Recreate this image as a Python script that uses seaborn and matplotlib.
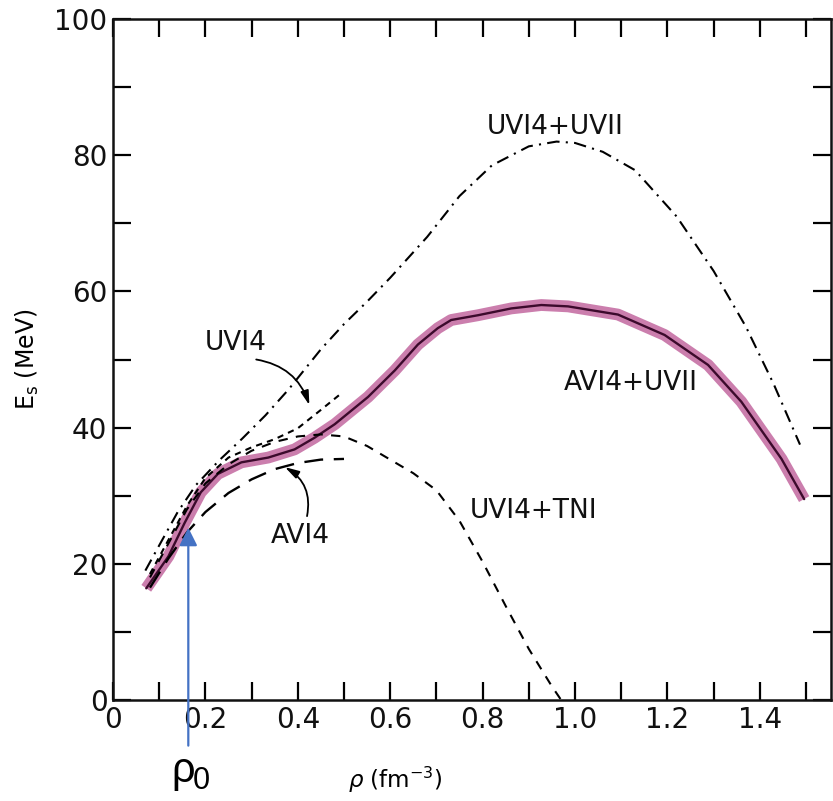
import numpy as np
import pandas as pd
import seaborn as sns
import matplotlib
matplotlib.use("Agg")
import matplotlib.pyplot as plt

# ---- data ----
uv_uvii_x = [0.07, 0.10, 0.14, 0.18, 0.23, 0.28, 0.33, 0.38, 0.45, 0.50, 0.55, 0.60, 0.68, 0.75,
             0.82, 0.90, 0.96, 1.00, 1.06, 1.13, 1.22, 1.30, 1.37, 1.43, 1.487]
uv_uvii_y = [19.0, 22.7, 27.6, 31.6, 35.2, 38.4, 41.8, 45.6, 51.5, 55.2, 58.5, 62.0, 68.0, 74.0,
             78.5, 81.3, 82.0, 81.8, 80.5, 77.8, 71.0, 63.0, 54.8, 46.4, 37.5]

av_uvii_x = [0.072, 0.12, 0.155, 0.19, 0.227, 0.278, 0.336, 0.393, 0.436, 0.48, 0.552, 0.61, 0.66,
             0.703, 0.732, 0.79, 0.862, 0.927, 0.985, 1.093, 1.194, 1.288, 1.36, 1.447, 1.496]
av_uvii_y = [16.4, 21.1, 26.0, 30.5, 33.2, 34.9, 35.6, 36.8, 38.5, 40.5, 44.5, 48.4, 52.2,
             54.6, 55.8, 56.5, 57.5, 58.0, 57.8, 56.6, 53.6, 49.2, 43.8, 35.4, 29.5]

uv_tni_x = [0.08, 0.12, 0.16, 0.20, 0.25, 0.30, 0.35, 0.40, 0.45, 0.50, 0.55, 0.60, 0.65, 0.70,
            0.75, 0.80, 0.85, 0.90, 0.95, 0.97]
uv_tni_y = [18.0, 23.0, 28.0, 31.8, 34.6, 36.6, 37.9, 38.7, 39.0, 38.7, 37.3, 35.3, 33.3, 30.8,
            26.3, 20.3, 13.8, 7.5, 2.0, 0.0]

uv14_x = [0.08, 0.12, 0.16, 0.20, 0.25, 0.30, 0.35, 0.40, 0.45, 0.49]
uv14_y = [18.5, 23.5, 28.5, 32.6, 35.6, 37.1, 38.3, 39.9, 42.6, 44.8]

av14_x = [0.08, 0.12, 0.16, 0.20, 0.25, 0.30, 0.35, 0.40, 0.45, 0.50]
av14_y = [16.5, 20.8, 24.6, 27.6, 30.4, 32.4, 33.9, 34.8, 35.3, 35.4]

rho0 = 0.163
x_ticklabels = ["0", "0.2", "0.4", "0.6", "0.8", "1.0", "1.2", "1.4"]
y_ticklabels = ["0", "20", "40", "60", "80", "100"]

# ---- figure ----
sns.set_theme(style="ticks")
plt.rcParams['font.family'] = ['DejaVu Sans']
plt.rcParams['text.color'] = 'black'
plt.rcParams['axes.labelcolor'] = 'black'
fig = plt.figure(figsize=(8.33, 8.01), dpi=100)
W, H = 833, 801
left_px, right_px, top_px, bot_px = 113, 831, 19, 700
ax = fig.add_axes([left_px / W, 1 - bot_px / H, (right_px - left_px) / W, (bot_px - top_px) / H])

band = "#c2679f"
dark = "#3c0a2c"

sns.lineplot(x=av_uvii_x, y=av_uvii_y, ax=ax, sort=False, estimator=None, color=band,
             lw=8.5, alpha=0.85, solid_capstyle="butt")
sns.lineplot(x=av_uvii_x, y=av_uvii_y, ax=ax, sort=False, estimator=None, color=dark, lw=1.7)

sns.lineplot(x=uv_uvii_x, y=uv_uvii_y, ax=ax, sort=False, estimator=None, color="black", lw=1.5,
             linestyle=(0, (6, 3, 1, 3)))
sns.lineplot(x=uv_tni_x, y=uv_tni_y, ax=ax, sort=False, estimator=None, color="black", lw=1.5,
             linestyle=(0, (4.5, 4)))
sns.lineplot(x=uv14_x, y=uv14_y, ax=ax, sort=False, estimator=None, color="black", lw=1.5,
             linestyle=(0, (3, 2.5)))
sns.lineplot(x=av14_x, y=av14_y, ax=ax, sort=False, estimator=None, color="black", lw=1.7,
             linestyle=(0, (8, 4.5)))

ax.set_xlim(0, (right_px - left_px) / 462)
ax.set_ylim(0, 100)

ax.set_xticks(np.arange(0, 1.41, 0.2))
ax.set_xticklabels(x_ticklabels)
ax.set_xticks(np.arange(0.1, 1.51, 0.2), minor=True)
ax.set_yticks(np.arange(0, 101, 20))
ax.set_yticklabels(y_ticklabels)
ax.set_yticks(np.arange(10, 100, 20), minor=True)
for which in ("major", "minor"):
    ax.tick_params(axis="both", which=which, direction="in", length=13, width=1.6,
                   top=True, right=True, colors="black")
ax.tick_params(axis="both", which="major", labelsize=20, pad=4, labelcolor="#111111")
for s in ax.spines.values():
    s.set_linewidth(1.8)
    s.set_color("#111111")

ax.set_xlabel(r"$\rho$ (fm$^{-3}$)", fontsize=16.5, labelpad=8)
ax.set_ylabel(r"E$_{\rm s}$ (MeV)", fontsize=17, labelpad=10)
ax.xaxis.set_label_coords((395 - left_px) / (right_px - left_px), -0.095)
ax.yaxis.set_label_coords(-0.1, 0.5)

txt = dict(fontsize=19, color="#111111", ha="center", va="center")
ax.text(0.958, 84.2, "UVI4+UVII", **txt)
ax.text(1.12, 46.5, "AVI4+UVII", **txt)
ax.text(0.91, 27.8, "UVI4+TNI", **txt)
ax.text(0.266, 52.4, "UVI4", **txt)
ax.text(0.406, 24.1, "AVI4", **txt)

ap = dict(arrowstyle="-|>,head_length=0.7,head_width=0.2", color="black", lw=1.3, shrinkA=0, shrinkB=0)
ax.annotate("", xy=(0.425, 43.3), xytext=(0.31, 50.0),
            arrowprops=dict(connectionstyle="arc3,rad=-0.3", **ap))
ax.annotate("", xy=(0.372, 34.2), xytext=(0.42, 27.0),
            arrowprops=dict(connectionstyle="arc3,rad=0.35", **ap))

# rho_0 marker arrow (extends below axis)
ax.annotate("", xy=(rho0, 25.3), xytext=(rho0, -6.7), annotation_clip=False,
            arrowprops=dict(arrowstyle="-|>,head_length=0.9,head_width=0.45",
                            color="#4472c4", lw=1.6, shrinkA=0, shrinkB=0))
ax.text(rho0 - 0.012, -10.4, "ρ", fontsize=30, ha="center", va="center", color="black",
        family="Liberation Sans", clip_on=False)
ax.text(rho0 + 0.028, -11.9, "0", fontsize=22, ha="center", va="center", color="black",
        family="Liberation Sans", clip_on=False)

fig.savefig("out.png", dpi=100)
